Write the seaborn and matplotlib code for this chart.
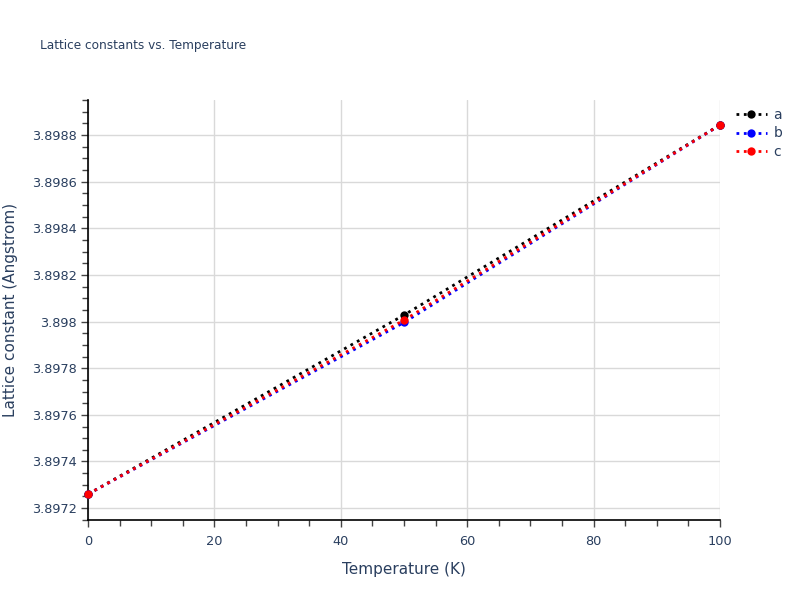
import numpy as np
import pandas as pd
import seaborn as sns
import matplotlib
matplotlib.use('Agg')
import matplotlib.pyplot as plt
from matplotlib.ticker import MultipleLocator, FuncFormatter

# values
temperature = [0, 50, 100]
lat_a = [3.89726, 3.898028, 3.898843]
lat_b = [3.89726, 3.897996, 3.898843]
lat_c = [3.89726, 3.898006, 3.898843]
series_names = ['a', 'b', 'c']
series_colors = ['black', 'blue', 'red']

df = pd.DataFrame({
    'Temperature': temperature * 3,
    'Lattice': lat_a + lat_b + lat_c,
    'axis': [n for n in series_names for _ in temperature],
})

sns.set_style('white')
plt.rcParams['font.family'] = ['DejaVu Sans']
txt = '#2a3f5f'

fig = plt.figure(figsize=(8, 6), dpi=100)
ax = fig.add_axes([0.11, 0.1333, 0.79, 0.70])

for name, col in zip(series_names, series_colors):
    sub = df[df['axis'] == name]
    sns.lineplot(data=sub, x='Temperature', y='Lattice', ax=ax, color=col,
                 linestyle=':', linewidth=2, marker='o', markersize=6,
                 markeredgewidth=0, label=name, clip_on=False, zorder=3)

ax.set_xlim(0, 100)
ax.set_ylim(3.897149, 3.89895)
ax.xaxis.set_major_locator(MultipleLocator(20))
ax.xaxis.set_minor_locator(MultipleLocator(5))
ax.yaxis.set_major_locator(MultipleLocator(0.0002))
ax.yaxis.set_minor_locator(MultipleLocator(0.00005))
ax.yaxis.set_major_formatter(FuncFormatter(lambda v, p: ('%.4f' % v).rstrip('0').rstrip('.')))
ax.xaxis.set_major_formatter(FuncFormatter(lambda v, p: '%d' % v))

ax.grid(True, which='major', color='#d9d9d9', linewidth=1)
ax.set_axisbelow(True)
for s in ['top', 'right']:
    ax.spines[s].set_visible(False)
for s in ['left', 'bottom']:
    ax.spines[s].set_color('black')
    ax.spines[s].set_linewidth(1.2)

ax.tick_params(axis='both', which='both', direction='out', bottom=True, left=True,
               colors='#444444', labelcolor=txt, labelsize=9.3, length=5, width=1)
ax.tick_params(axis='both', which='minor', length=4)
ax.tick_params(axis='x', which='major', pad=6)
ax.tick_params(axis='y', which='major', pad=3)

ax.set_xlabel('Temperature (K)', fontsize=11, color=txt, labelpad=10)
ax.set_ylabel('Lattice constant (Angstrom)', fontsize=11, color=txt, labelpad=10)
fig.text(0.05, 0.925, 'Lattice constants vs. Temperature', fontsize=8.7,
         color=txt, va='center', ha='left')

ax.legend(loc='upper left', bbox_to_anchor=(0.913, 0.83), bbox_transform=fig.transFigure,
          frameon=False, fontsize=10, handlelength=2.2, labelcolor=txt,
          borderaxespad=0, handletextpad=0.5, labelspacing=0.35)

fig.savefig('out.png', dpi=100)
